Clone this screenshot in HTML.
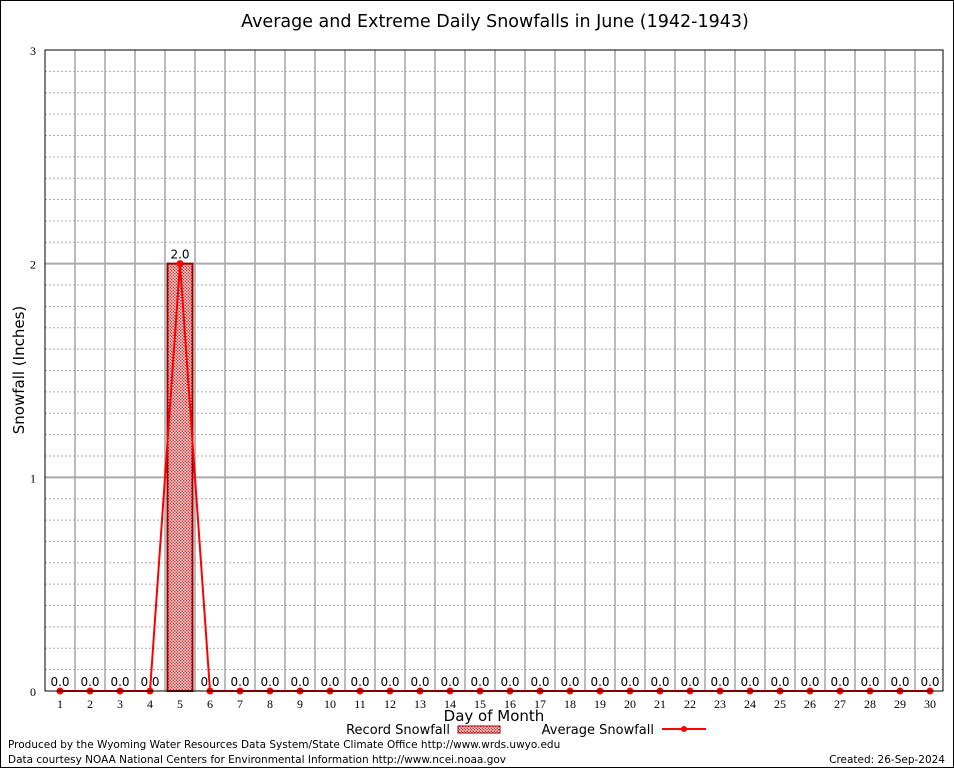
<!DOCTYPE html>
<html><head><meta charset="utf-8"><style>
body{margin:0;background:#fff}
svg{display:block;font-family:"DejaVu Sans","Liberation Sans",sans-serif}
</style></head><body>
<svg id="c" width="954" height="768">
<defs><pattern id="chk" width="3" height="3" patternUnits="userSpaceOnUse"><rect width="3" height="3" fill="#fff"/><rect width="1.5" height="1.5" fill="#e02020"/><rect x="1.5" y="1.5" width="1.5" height="1.5" fill="#e02020"/></pattern></defs>
<rect x="0.5" y="0.5" width="953" height="767" fill="#fff" stroke="#000"/>
<text x="495" y="27" font-size="17.5" text-anchor="middle">Average and Extreme Daily Snowfalls in June (1942-1943)</text>
<g id="grid"></g><g id="marks"></g>
<rect x="45" y="50" width="898" height="641" fill="none" stroke="#000"/>
<text transform="translate(24,370) rotate(-90)" font-size="15" text-anchor="middle">Snowfall (Inches)</text>
<text x="494" y="721" font-size="15" text-anchor="middle">Day of Month</text>
<g><text x="450" y="734" font-size="13" text-anchor="end">Record Snowfall</text><rect x="458" y="726" width="42" height="7" fill="url(#chk)" stroke="#900"/></g>
<g><text x="654" y="734" font-size="13" text-anchor="end">Average Snowfall</text><line x1="662" y1="729" x2="706" y2="729" stroke="red" stroke-width="2"/><circle cx="684" cy="729" r="3" fill="red"/></g>
<text x="8" y="748" font-size="10.5">Produced by the Wyoming Water Resources Data System/State Climate Office http://www.wrds.uwyo.edu</text>
<text x="8" y="763" font-size="10.5">Data courtesy NOAA National Centers for Environmental Information http://www.ncei.noaa.gov</text>
<text x="945" y="763" font-size="10.5" text-anchor="end">Created: 26-Sep-2024</text>
</svg>
<script>
const days=[1,2,3,4,5,6,7,8,9,10,11,12,13,14,15,16,17,18,19,20,21,22,23,24,25,26,27,28,29,30];
const recordSnow=[0,0,0,0,2,0,0,0,0,0,0,0,0,0,0,0,0,0,0,0,0,0,0,0,0,0,0,0,0,0];
const avgSnow=[0,0,0,0,2,0,0,0,0,0,0,0,0,0,0,0,0,0,0,0,0,0,0,0,0,0,0,0,0,0];
const yTicks=[0,1,2,3];
const NS='http://www.w3.org/2000/svg';
const X=d=>60+(d-1)*30, Y=v=>691-v*213.67;
function mk(t,a,p){const e=document.createElementNS(NS,t);for(const k in a)e.setAttribute(k,a[k]);p.appendChild(e);return e;}
const g=document.getElementById('grid'),m=document.getElementById('marks');
for(let i=1;i<30;i++){const l=mk('line',{x1:45+i*30,x2:45+i*30,y1:50,y2:691,stroke:'#bbb','stroke-width':2},g);

}
for(let v=1;v<30;v++){if(v%10==0)continue;const l=mk('line',{x1:45,x2:943,y1:Y(v/10),y2:Y(v/10),stroke:'#aaa','stroke-dasharray':'2,2'},g);

}
yTicks.forEach(v=>{if(v>0&&v<3){const l=mk('line',{x1:45,x2:943,y1:Y(v),y2:Y(v),stroke:'#aaa','stroke-width':2},g);

}
const t=mk('text',{x:36,y:Y(v)+5,'font-size':12,'text-anchor':'end','font-family':'Liberation Serif,serif'},g);t.textContent=v;

});
days.forEach((d,i)=>{const t=mk('text',{x:X(d),y:708,'font-size':12,'text-anchor':'middle','font-family':'Liberation Serif,serif'},g);t.textContent=d;


const v=recordSnow[i];
if(v>0){const b=mk('rect',{x:X(d)-12.5,y:Y(v),width:25,height:691-Y(v),fill:'url(#chk)',stroke:'#900','stroke-width':2},m);

}
const lb=mk('text',{x:X(d),y:Y(v)-5,'font-size':12,'text-anchor':'middle'},m);lb.textContent=v.toFixed(1);

});
const pl=mk('polyline',{points:days.map((d,i)=>X(d)+','+Y(avgSnow[i])).join(' '),fill:'none',stroke:'red','stroke-width':2},m);


days.forEach((d,i)=>{const c=mk('circle',{cx:X(d),cy:Y(avgSnow[i]),r:3.5,fill:'red'},m);

});
</script>
</body></html>
